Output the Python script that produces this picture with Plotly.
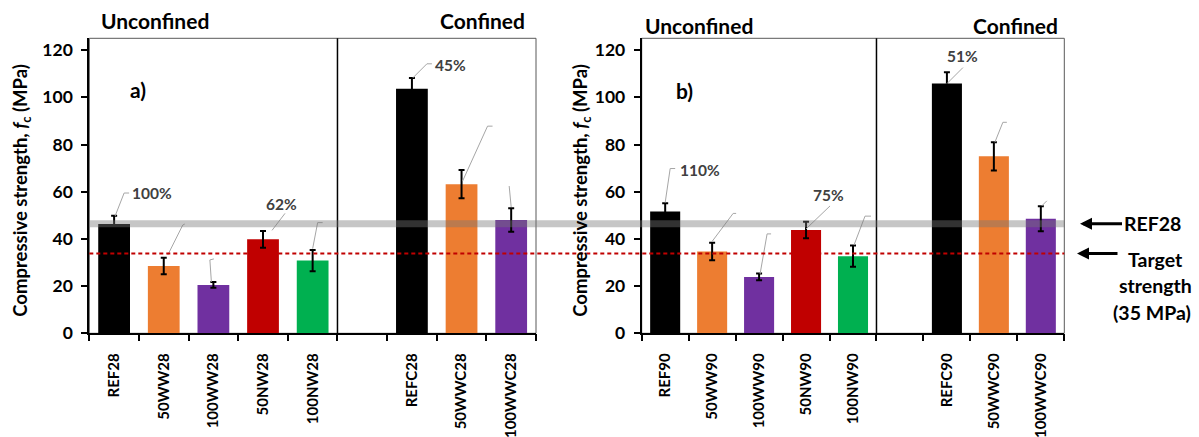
import plotly.graph_objects as go

# ---------------- data ----------------
cats_a = ["REF28", "50WW28", "100WW28", "50NW28", "100NW28", "REFC28", "50WWC28", "100WWC28"]
vals_a = [46.3, 28.5, 20.5, 39.8, 30.8, 103.6, 63.2, 48.0]
err_a = [3.5, 3.5, 1.2, 3.5, 4.5, 4.6, 6.0, 5.0]
pct_a = ["100%", "", "", "62%", "", "45%", "", ""]

cats_b = ["REF90", "50WW90", "100WW90", "50NW90", "100NW90", "REFC90", "50WWC90", "100WWC90"]
vals_b = [51.6, 34.7, 23.9, 43.8, 32.7, 105.8, 75.0, 48.5]
err_b = [3.5, 3.7, 1.4, 3.5, 4.5, 4.8, 6.0, 5.3]
pct_b = ["110%", "", "", "75%", "", "51%", "", ""]

ref28_level = 46.4
target_level = 33.8
y_ticks = [0, 20, 40, 60, 80, 100, 120]

# ---------------- layout / style ----------------
W, H = 1199, 437
slots = [0, 1, 2, 3, 4, 6, 7, 8]
boundaries = [k - 0.5 for k in range(10)]
colors = ["#000000", "#ED7D31", "#7030A0", "#C00000", "#00B050", "#000000", "#ED7D31", "#7030A0"]
FONT = "Lato"

ax_a = (89.3, 536.0)
ax_b = (641.7, 1064.3)
y_top, y_bot = 38.3, 333.3
YMAX = 125
ppu = (y_bot - y_top) / YMAX

# leader lines: pixel offsets from (bar centre, bar top) -> list of points
lead_a = [
    [(1, 8), (10, 31), (15, 31)],
    [(4, 11), (19, 41), (21, 42)],
    [(-2, 3), (-3.5, 25), (0.5, 26)],
    [(9, 9), (22, 26)],
    [(0, 12), (5, 38), (10, 38)],
    [(1, 11), (15, 25), (20, 25)],
    [(1, 3), (26, 58), (31, 58)],
    [(0, 13), (-2, 34)],
]
lab_a = [(16, 31, "left"), None, None, (18, 35, "center"), None, (21, 24, "left"), None, None]
lead_b = [
    [(0, 9), (5, 43), (10, 43)],
    [(0, 10), (21, 38), (24, 38)],
    [(1, 3), (8, 43), (12, 43)],
    [(0, 1), (24, 24)],
    [(1, 11), (12, 40), (18, 40)],
    [(0, 0), (16, 16)],
    [(1, 14), (9, 34), (13, 34)],
    [(1, 13), (6, 18)],
]
lab_b = [(13, 42, "left"), None, None, (22, 35, "center"), None, (16, 28, "center"), None, None]

fig = go.Figure()

panels = [
    ("x", "y", ax_a, cats_a, vals_a, err_a, pct_a, lead_a, lab_a),
    ("x2", "y2", ax_b, cats_b, vals_b, err_b, pct_b, lead_b, lab_b),
]

shapes = []
annotations = []

for xr, yr, (px0, px1), cats, vals, errs, pcts, leads, labs in panels:
    pps = (px1 - px0) / 9.0
    fig.add_trace(go.Bar(
        x=slots, y=vals, xaxis=xr, yaxis=yr, width=0.64,
        marker=dict(color=colors, line=dict(width=0)),
        error_y=dict(type="data", array=errs, color="#000000", thickness=2, width=3),
        showlegend=False, hoverinfo="skip",
    ))
    for i, pts in enumerate(leads):
        coords = [(slots[i] + dx / pps, vals[i] + dy / ppu) for dx, dy in pts]
        path = "M " + " L ".join(f"{x:.4f},{y:.4f}" for x, y in coords)
        shapes.append(dict(type="path", path=path, xref=xr, yref=yr,
                           line=dict(color="#A6A6A6", width=1), layer="above"))
    for i, lab in enumerate(labs):
        if lab and pcts[i]:
            dx, dy, anc = lab
            annotations.append(dict(
                x=slots[i] + dx / pps, y=vals[i] + dy / ppu, xref=xr, yref=yr,
                text=pcts[i], showarrow=False, xanchor=anc, yanchor="middle",
                font=dict(family=FONT, size=15.5, color="#404040", weight="bold"),
            ))
    shapes.append(dict(type="rect", xref=f"{xr} domain", yref=f"{yr} domain",
                       x0=0, x1=1, y0=0, y1=1, line=dict(color="#595959", width=1), layer="below"))
    shapes.append(dict(type="line", xref=xr, yref=f"{yr} domain", x0=4.5, x1=4.5, y0=0, y1=1,
                       line=dict(color="#000000", width=1.5), layer="above"))

# invisible traces to host the boundary-tick axes
fig.add_trace(go.Scatter(x=[None], y=[None], xaxis="x3", yaxis="y", showlegend=False, hoverinfo="skip"))
fig.add_trace(go.Scatter(x=[None], y=[None], xaxis="x4", yaxis="y2", showlegend=False, hoverinfo="skip"))

xl, xr_ = ax_a[0] / W, ax_b[1] / W
shapes.append(dict(type="line", xref="paper", yref="y", x0=xl, x1=xr_, y0=ref28_level, y1=ref28_level,
                   line=dict(color="rgba(120,120,120,0.42)", width=7), layer="above"))
shapes.append(dict(type="line", xref="paper", yref="y", x0=xl, x1=xr_, y0=target_level, y1=target_level,
                   line=dict(color="#C00000", width=2, dash="4px,3px"), layer="above"))

ydom = [1 - y_bot / H, 1 - y_top / H]


def xaxis_cfg(dom, cats, anchor):
    return dict(
        domain=[dom[0] / W, dom[1] / W], range=[-0.5, 8.5], anchor=anchor, automargin=False,
        tickmode="array", tickvals=slots, ticktext=cats, ticks="", tickangle=-90,
        ticklabelstandoff=12,
        tickfont=dict(family=FONT, size=15, color="#000000", weight="bold"),
        showline=True, linecolor="#000000", linewidth=2, showgrid=False, zeroline=False,
        fixedrange=True,
    )


def tick_axis_cfg(base, anchor):
    return dict(
        overlaying=base, anchor=anchor, range=[-0.5, 8.5], side="bottom", automargin=False,
        tickmode="array", tickvals=boundaries, ticks="outside", ticklen=7, tickwidth=2,
        tickcolor="#000000", showticklabels=False, showline=False, showgrid=False,
        zeroline=False, fixedrange=True,
    )


def yaxis_cfg(anchor):
    return dict(
        domain=ydom, range=[0, YMAX], anchor=anchor, automargin=False,
        tickmode="array", tickvals=y_ticks, ticks="outside", ticklen=6, tickwidth=2,
        tickcolor="#000000", ticklabelstandoff=5,
        tickfont=dict(family=FONT, size=17.5, color="#000000", weight="bold"),
        showline=True, linecolor="#000000", linewidth=2, showgrid=False, zeroline=False,
        fixedrange=True,
    )


ytitle = "Compressive strength, <i>f</i><sub>c</sub> (MPa)"
for xp in (21.7, 581.7):
    annotations.append(dict(x=xp / W, y=1 - 190 / H, xref="paper", yref="paper", text=ytitle,
                            textangle=-90, showarrow=False, xanchor="center", yanchor="middle",
                            font=dict(family=FONT, size=18.5, color="#000000", weight="bold")))

head_font = dict(family=FONT, size=21, color="#000000", weight="bold")
annotations += [
    dict(x=99 / W, y=1 - 21 / H, xref="paper", yref="paper", text="Unconfined", showarrow=False,
         xanchor="left", yanchor="middle", font=head_font),
    dict(x=527 / W, y=1 - 21 / H, xref="paper", yref="paper", text="Confined", showarrow=False,
         xanchor="right", yanchor="middle", font=head_font),
    dict(x=643 / W, y=1 - 25 / H, xref="paper", yref="paper", text="Unconfined", showarrow=False,
         xanchor="left", yanchor="middle", font=head_font),
    dict(x=1060 / W, y=1 - 25 / H, xref="paper", yref="paper", text="Confined", showarrow=False,
         xanchor="right", yanchor="middle", font=head_font),
    dict(x=128 / W, y=1 - 89 / H, xref="paper", yref="paper", text="a)", showarrow=False,
         xanchor="left", yanchor="middle", font=head_font),
    dict(x=674 / W, y=1 - 90 / H, xref="paper", yref="paper", text="b)", showarrow=False,
         xanchor="left", yanchor="middle", font=head_font),
]

side_font = dict(family=FONT, size=19.5, color="#000000", weight="bold")
annotations += [
    dict(x=1080 / W, y=ref28_level, xref="paper", yref="y", text="REF28", showarrow=True,
         ax=72, ay=0, axref="pixel", ayref="pixel", arrowhead=2, arrowsize=0.8, arrowwidth=3,
         arrowcolor="#000000", standoff=0, font=side_font),
    dict(x=1077 / W, y=target_level, xref="paper", yref="y", text="", showarrow=True,
         ax=42, ay=0, axref="pixel", ayref="pixel", arrowhead=2, arrowsize=0.8, arrowwidth=3,
         arrowcolor="#000000", standoff=0),
    dict(x=1155 / W, y=1 - 259 / H, xref="paper", yref="paper", text="Target", showarrow=False,
         xanchor="center", yanchor="middle", font=side_font),
    dict(x=1155 / W, y=1 - 285 / H, xref="paper", yref="paper", text="strength", showarrow=False,
         xanchor="center", yanchor="middle", font=side_font),
    dict(x=1152 / W, y=1 - 312 / H, xref="paper", yref="paper", text="(35 MPa)", showarrow=False,
         xanchor="center", yanchor="middle", font=side_font),
]

fig.update_layout(
    template="none",
    width=W, height=H, margin=dict(l=0, r=0, t=0, b=0, autoexpand=False),
    paper_bgcolor="#FFFFFF", plot_bgcolor="#FFFFFF",
    xaxis=xaxis_cfg(ax_a, cats_a, "y"), yaxis=yaxis_cfg("x"),
    xaxis2=xaxis_cfg(ax_b, cats_b, "y2"), yaxis2=yaxis_cfg("x2"),
    xaxis3=tick_axis_cfg("x", "y"), xaxis4=tick_axis_cfg("x2", "y2"),
    shapes=shapes, annotations=annotations, bargap=0.36, showlegend=False,
)

fig.write_html("out.html", config={"displayModeBar": False})
